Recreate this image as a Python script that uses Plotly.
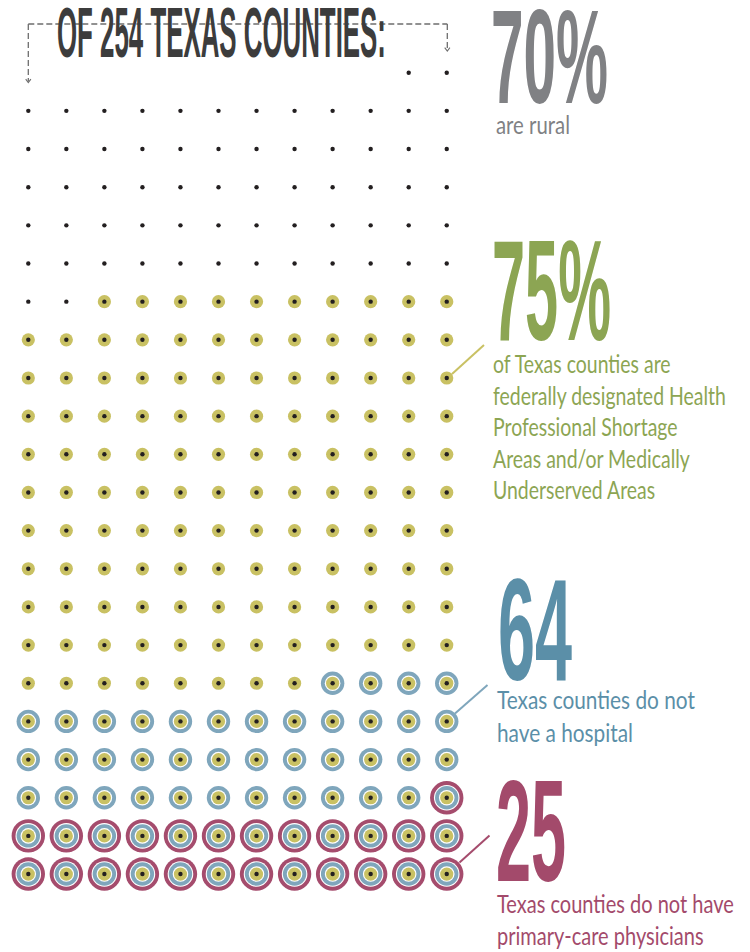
import json
import math
import plotly.graph_objects as go

W, H = 750, 952

# ---------------- data ----------------
TOTAL_COUNTIES = 254
SHORTAGE_COUNTIES = 190        # 75% : HPSA and/or MUA
NO_HOSPITAL_COUNTIES = 64
NO_PHYSICIAN_COUNTIES = 25
GRID_COLUMNS = 12

TITLE = "OF 254 TEXAS COUNTIES:"
STAT_LABELS = ["70%", "75%", "64", "25"]
STAT_TEXTS = [
    ["are rural"],
    ["of Texas counties are", "federally designated Health",
     "Professional Shortage", "Areas and/or Medically", "Underserved Areas"],
    ["Texas counties do not", "have a hospital"],
    ["Texas counties do not have", "primary-care physicians"],
]

# ---------------- style ----------------
C_DOT = "#231f20"
C_GREEN_DOT = "#c9c163"
C_BLUE_RING = "#7fa6bc"
C_MAROON_RING = "#a54c6d"
C_TITLE = "#3c3c3c"
C_GRAY = "#808184"
C_GREEN_TXT = "#8ca553"
C_BLUE_TXT = "#5b8fa8"
C_MAROON_TXT = "#a34a6b"
C_BRACKET = "#6e6e6e"

X0, DX = 28.3, 38.04
Y0, DY = 72.7, 38.16

rows = math.ceil(TOTAL_COUNTIES / GRID_COLUMNS)
offset = rows * GRID_COLUMNS - TOTAL_COUNTIES


def grid_pos(i):
    p = i + offset
    return X0 + DX * (p % GRID_COLUMNS), Y0 + DY * (p // GRID_COLUMNS)


def points(first_index):
    xs, ys = [], []
    for i in range(first_index, TOTAL_COUNTIES):
        x, y = grid_pos(i)
        xs.append(x)
        ys.append(y)
    return xs, ys


fig = go.Figure()

layers = [
    (TOTAL_COUNTIES - NO_PHYSICIAN_COUNTIES, 33.4, C_MAROON_RING),
    (TOTAL_COUNTIES - NO_PHYSICIAN_COUNTIES, 25.6, "white"),
    (TOTAL_COUNTIES - NO_HOSPITAL_COUNTIES, 23.4, C_BLUE_RING),
    (TOTAL_COUNTIES - NO_HOSPITAL_COUNTIES, 15.6, "white"),
    (TOTAL_COUNTIES - SHORTAGE_COUNTIES, 13.2, C_GREEN_DOT),
    (0, 4.4, C_DOT),
]
for first, size, color in layers:
    xs, ys = points(first)
    fig.add_trace(go.Scatter(
        x=xs, y=ys, mode="markers", hoverinfo="skip", showlegend=False,
        marker=dict(size=size, color=color, line=dict(width=0)),
    ))

# ---------------- shapes ----------------
shapes = []
dash = "6px,3px"
for (xa, ya, xb, yb) in [(28.3, 24, 447.3, 24), (28.3, 24, 28.3, 81.5), (447.3, 24, 447.3, 50)]:
    shapes.append(dict(type="line", xref="x", yref="y", x0=xa, y0=ya, x1=xb, y1=yb,
                       line=dict(color=C_BRACKET, width=1.3, dash=dash), layer="below"))
for (xt, yt) in [(28.3, 82.5), (447.3, 51)]:
    shapes.append(dict(type="path", xref="x", yref="y",
                       path=f"M {xt-2.6},{yt-3.4} L {xt},{yt} L {xt+2.6},{yt-3.4}",
                       line=dict(color=C_BRACKET, width=1.1), layer="below"))

for (xa, ya, xb, yb, col) in [(452, 374, 484, 345, C_GREEN_DOT),
                              (455, 713.5, 487.5, 685, C_BLUE_RING),
                              (459.5, 862.5, 489.5, 835.5, C_MAROON_RING)]:
    shapes.append(dict(type="line", xref="x", yref="y", x0=xa, y0=ya, x1=xb, y1=yb,
                       line=dict(color=col, width=2)))

# ---------------- text ----------------
BIG_FONT = "Liberation Sans"
BODY_FONT = "Lato, Liberation Sans, sans-serif"
ASC_BIG = 0.905
ASC_BODY = 0.987

annotations = []
targets = []


def add_text(text, x, baseline, size, color, family, asc, weight, target):
    top = baseline - asc * size
    annotations.append(dict(
        text=text, xref="paper", yref="paper", x=x / W, y=1 - top / H,
        xanchor="left", yanchor="top", align="left", showarrow=False,
        borderpad=0, borderwidth=0,
        font=dict(family=family, size=size, color=color, weight=weight),
    ))
    targets.append(target)


add_text(TITLE, 56.5, 57, 70, C_TITLE, BIG_FONT, ASC_BIG, 700, 329)

add_text(STAT_LABELS[0], 490.5, 103.3, 133, C_GRAY, BIG_FONT, ASC_BIG, 700, 117)
add_text("<br>".join(STAT_TEXTS[0]), 495.5, 134, 25.5, C_GRAY, BODY_FONT, ASC_BODY, 400, 74)

add_text(STAT_LABELS[1], 491.5, 340, 143, C_GREEN_TXT, BIG_FONT, ASC_BIG, 700, 119)
add_text("<br>".join(STAT_TEXTS[1]), 492.5, 372.7, 24.3, C_GREEN_TXT, BODY_FONT, ASC_BODY, 400, 233)

add_text(STAT_LABELS[2], 497.5, 680, 145, C_BLUE_TXT, BIG_FONT, ASC_BIG, 700, 74)
add_text("<br>".join(STAT_TEXTS[2]), 496.5, 709, 25.1, C_BLUE_TXT, BODY_FONT, ASC_BODY, 400, 198)

add_text(STAT_LABELS[3], 495.5, 881.7, 145, C_MAROON_TXT, BIG_FONT, ASC_BIG, 700, 70)
add_text("<br>".join(STAT_TEXTS[3]), 496.5, 913.3, 24.6, C_MAROON_TXT, BODY_FONT, ASC_BODY, 400, 237)

fig.update_layout(
    width=W, height=H, margin=dict(l=0, r=0, t=0, b=0),
    paper_bgcolor="white", plot_bgcolor="white",
    xaxis=dict(range=[0, W], visible=False, fixedrange=True),
    yaxis=dict(range=[H, 0], visible=False, fixedrange=True),
    shapes=shapes, annotations=annotations, showlegend=False,
)

post_script = """
document.body.style.margin = '0';
document.body.style.overflow = 'hidden';
var gd = document.getElementById('{plot_id}');
var targets = TARGETS;
function squeeze() {
  var groups = gd.querySelectorAll('g.annotation');
  groups.forEach(function(g) {
    var i = parseInt(g.getAttribute('data-index'));
    var w = targets[i];
    if (!w) return;
    var t = g.querySelector('text.annotation-text');
    if (!t) return;
    var bb = t.getBBox();
    if (!bb.width) return;
    var k = w / bb.width;
    t.setAttribute('transform', 'translate(' + bb.x + ',0) scale(' + k + ',1) translate(' + (-bb.x) + ',0)');
  });
}
squeeze();
gd.on('plotly_afterplot', squeeze);
""".replace("TARGETS", json.dumps(targets))

fig.write_html("out.html", post_script=post_script,
               config={"displayModeBar": False, "responsive": False})
